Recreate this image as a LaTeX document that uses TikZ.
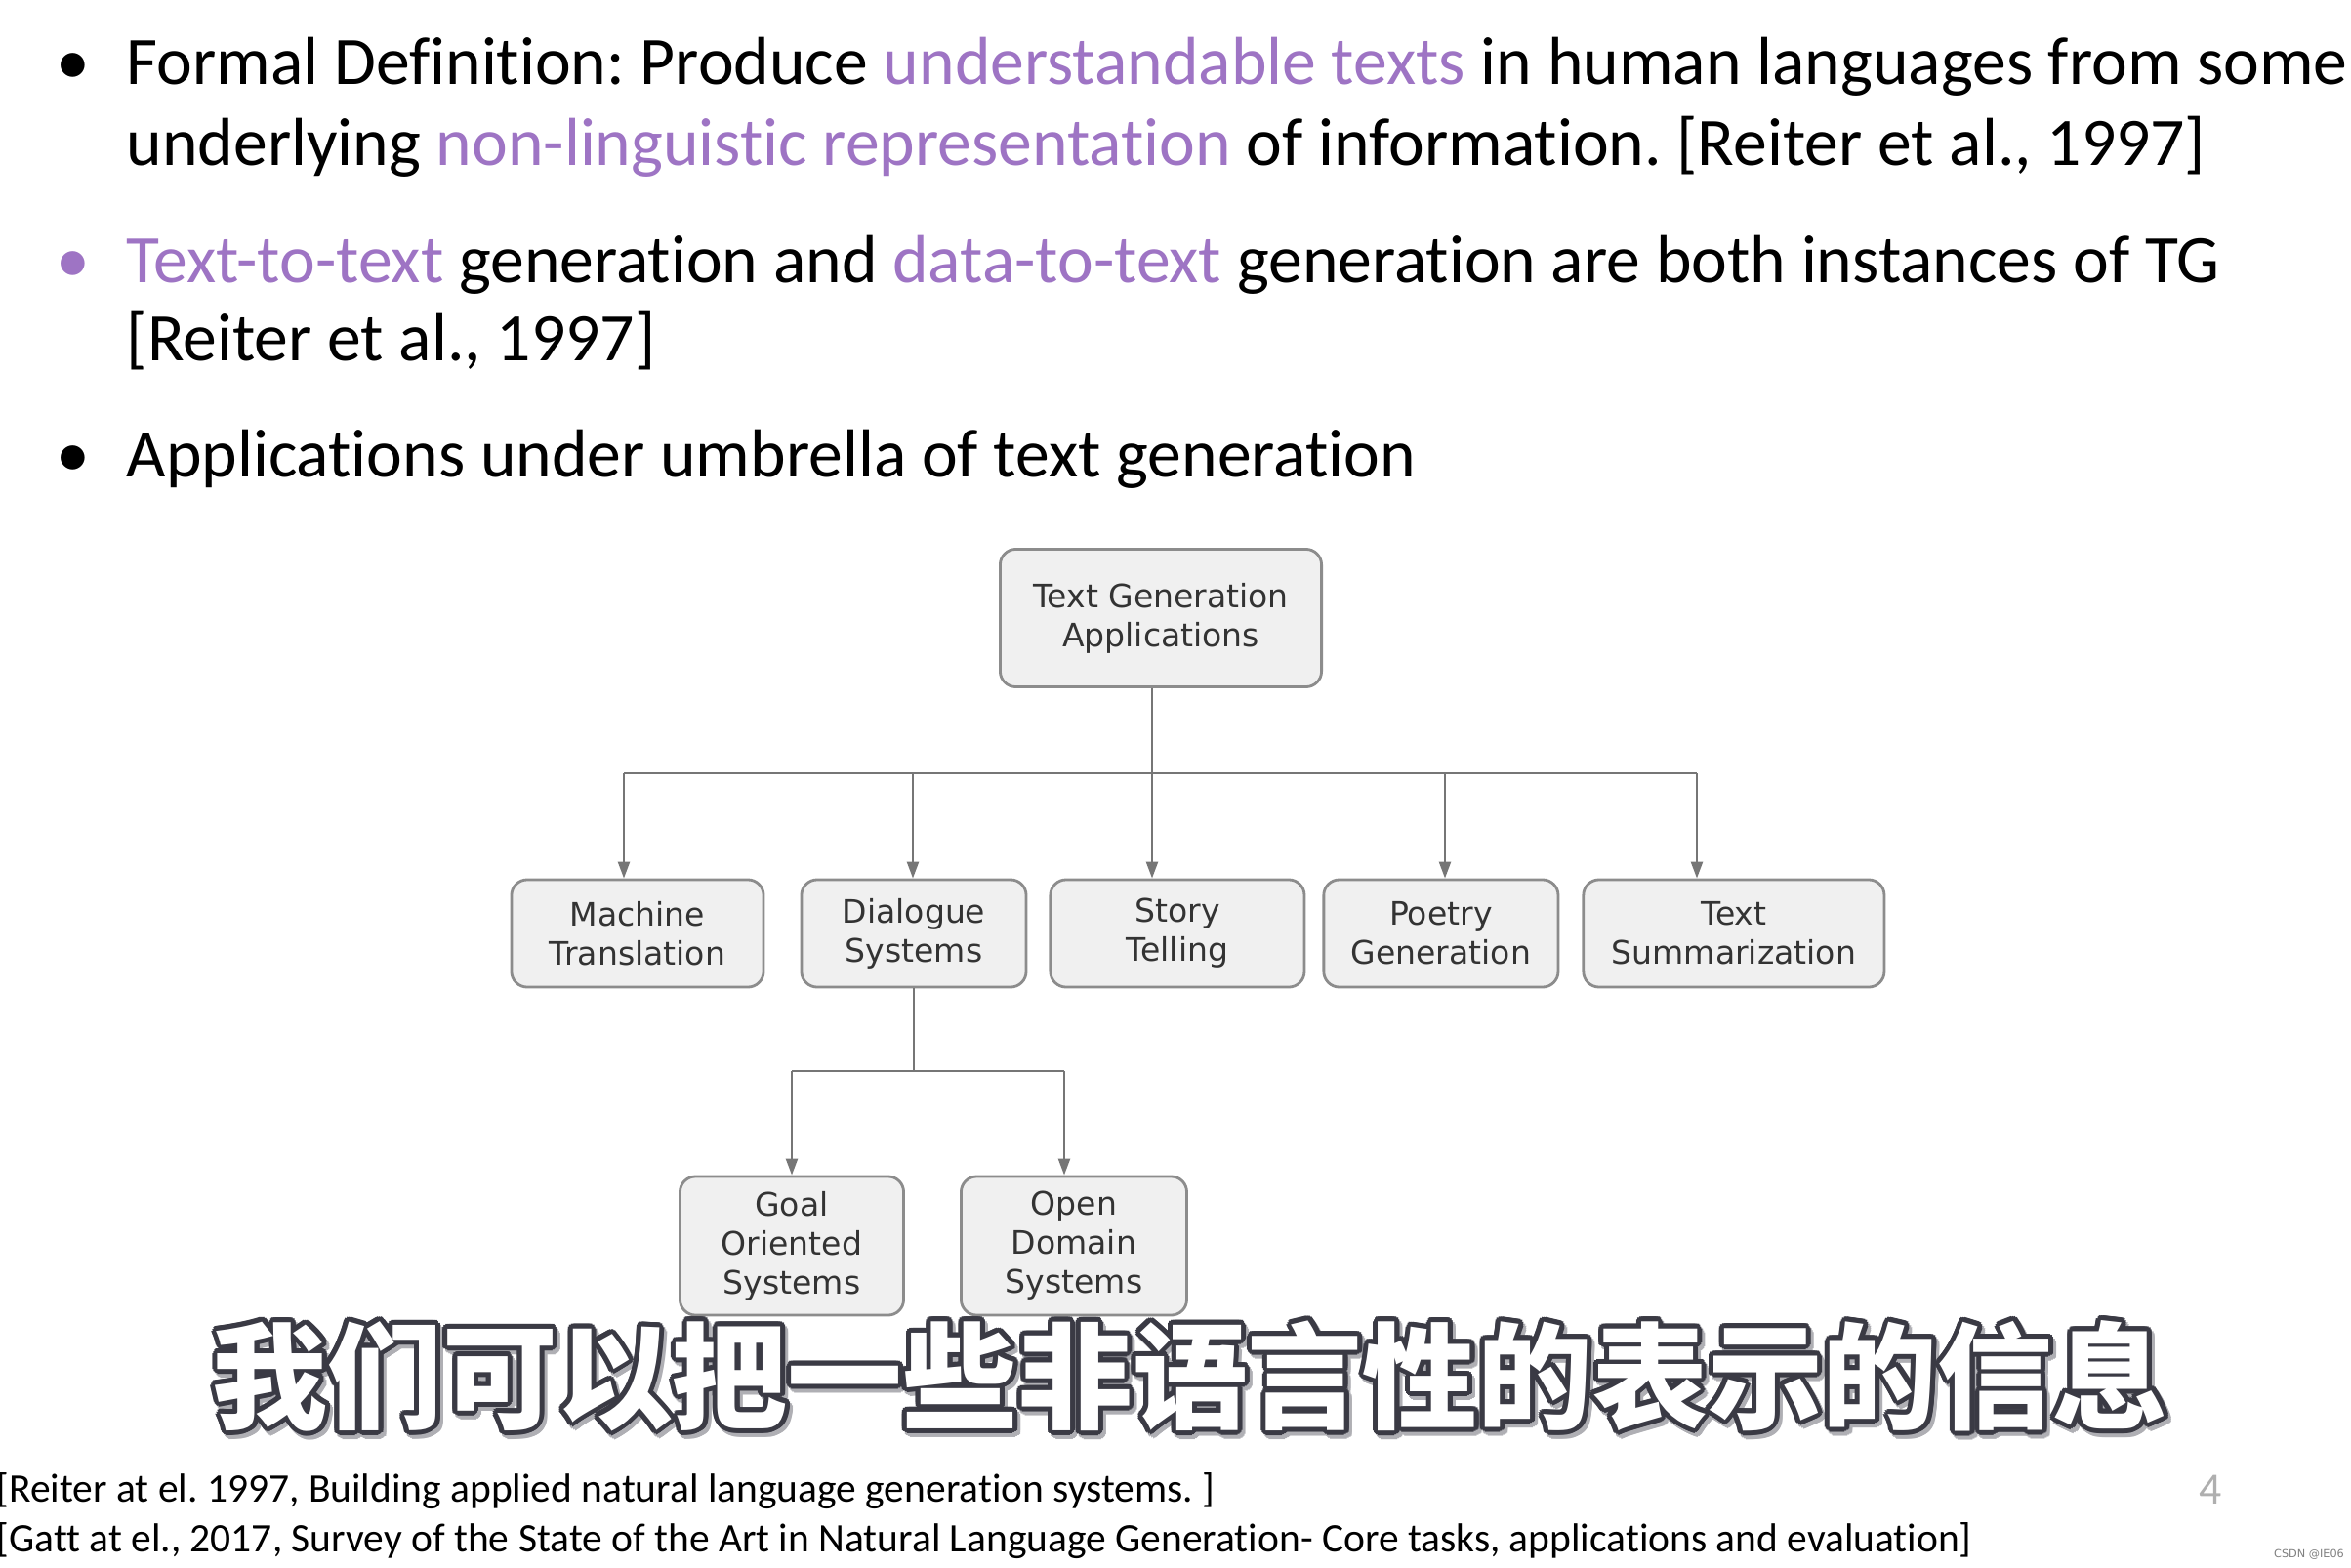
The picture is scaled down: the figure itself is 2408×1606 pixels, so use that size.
\documentclass[tikz,border=0pt]{standalone}
\usepackage{fontspec}
\setmainfont{Carlito}[Ligatures=NoCommon]
\newfontfamily\boxfont{DejaVu Sans}
\newfontfamily\reffont{Carlito}[Ligatures=NoCommon]
\newfontfamily\cjk{Noto Sans CJK SC}
\usepackage{tikz}
\usetikzlibrary{arrows.meta,positioning,calc}
\definecolor{tgpurple}{RGB}{158,116,196}
\definecolor{boxline}{RGB}{140,140,140}
\definecolor{boxfill}{RGB}{240,240,240}
\definecolor{wireline}{RGB}{118,118,118}
\definecolor{boxtext}{RGB}{51,51,51}
\definecolor{subline}{RGB}{58,58,68}
\definecolor{subshade}{RGB}{175,175,180}
\definecolor{pagegray}{RGB}{175,175,175}
\newcommand\subtitletext{我们可以把一些非语言性的表示的信息}
\frenchspacing
\tikzset{
  bodytext/.style={anchor=base west,inner sep=0pt,font=\fontsize{19.8}{24}\selectfont},
  appbox/.style={draw=boxline,line width=.8pt,fill=boxfill,rounded corners=1.6mm,align=center,
    text=boxtext,inner sep=0pt,font=\fontsize{9.4}{11.4}\boxfont},
  wire/.style={draw=wireline,line width=.7pt},
  wirearrow/.style={wire,-{Triangle[length=1.7mm,width=1.2mm]}},
  subtext/.style={inner sep=0pt,font=\fontsize{33.5}{34}\cjk\bfseries},
  reftext/.style={anchor=base west,inner sep=0pt,font=\fontsize{11.8}{13}\reffont}
}
\begin{document}
\begin{tikzpicture}[x=0.01cm,y=-0.01cm]
  \useasboundingbox (0,0) rectangle (2408,1606);
  \clip (0,0) rectangle (2408,1606);
  \fill[white] (0,0) rectangle (2408,1606);

  % bullet points
  \node[bodytext,anchor=base] (bul1) at (75,87) {\textbullet};
  \node[bodytext] (l1) at (129,87) {Formal Definition: Produce \textcolor{tgpurple}{understandable texts} in human languages from some};
  \node[bodytext] (l2) at (129,169) {underlying \textcolor{tgpurple}{non-linguistic representation} of information. [Reiter et al., 1997]};
  \node[bodytext,anchor=base,text=tgpurple] (bul2) at (75,289) {\textbullet};
  \node[bodytext] (l3) at (129,289) {\textcolor{tgpurple}{Text-to-text} generation and \textcolor{tgpurple}{data-to-text} generation are both instances of TG};
  \node[bodytext] (l4) at (129,369) {[Reiter et al., 1997]};
  \node[bodytext,anchor=base] (bul3) at (75,488) {\textbullet};
  \node[bodytext] (l5) at (129,488) {Applications under umbrella of text generation};

  % application tree
  \node[appbox,minimum width=32.9mm,minimum height=14.1mm] (root) at (1189,633) {Text Generation\\Applications};
  \node[appbox,minimum width=25.8mm,minimum height=11mm] (mt) at (653,956) {Machine\\Translation};
  \node[appbox,minimum width=23mm,minimum height=11mm,right=3.6mm of mt] (ds) {Dialogue\\Systems};
  \node[appbox,minimum width=26mm,minimum height=11mm,right=2.2mm of ds] (st) {Story\\Telling};
  \node[appbox,minimum width=24mm,minimum height=11mm,right=1.7mm of st] (pg) {Poetry\\Generation};
  \node[appbox,minimum width=30.8mm,minimum height=11mm,right=2.3mm of pg] (ts) {Text\\Summarization};
  \node[appbox,minimum width=22.9mm,minimum height=14.2mm] (go) at (811,1276) {Goal\\Oriented\\Systems};
  \node[appbox,minimum width=23.1mm,minimum height=14.2mm,right=5.6mm of go] (od) {Open\\Domain\\Systems};

  \coordinate (b1) at (639,792);
  \coordinate (b2) at (935,792);
  \coordinate (b3) at (1180,792);
  \coordinate (b4) at (1480,792);
  \coordinate (b5) at (1738,792);
  \coordinate (c1) at (811,1097);
  \coordinate (c2) at (1090,1097);
  \draw[wire] (b3 |- root.south)--(b3);
  \draw[wire] (b1)--(b5);
  \draw[wirearrow] (b1)--(b1 |- mt.north);
  \draw[wirearrow] (b2)--(b2 |- ds.north);
  \draw[wirearrow] (b3)--(b3 |- st.north);
  \draw[wirearrow] (b4)--(b4 |- pg.north);
  \draw[wirearrow] (b5)--(b5 |- ts.north);
  \draw[wire] (ds.south)--(ds.south |- c1);
  \draw[wire] (c1)--(c2);
  \draw[wirearrow] (c1)--(c1 |- go.north);
  \draw[wirearrow] (c2)--(c2 |- od.north);

  % subtitle with outline
  \coordinate (subc) at (1219,1409);
  \foreach \a in {0,22.5,...,337.5}
    \node[subtext,text=subshade] at ($(subc)+(\a:0.05cm)+(0.03cm,-0.04cm)$) {\subtitletext};
  \foreach \a in {0,22.5,...,337.5}
    \node[subtext,text=subline] at ($(subc)+(\a:0.05cm)$) {\subtitletext};
  \node[subtext,text=white] (sub) at (subc) {\subtitletext};

  % references
  \node[reftext] (ref1) at (-4,1538) {[Reiter at el. 1997, Building applied natural language generation systems. ]};
  \node[reftext] (ref2) at (-4,1589) {[Gatt at el., 2017, Survey of the State of the Art in Natural Language Generation- Core tasks, applications and evaluation]};
  \node[anchor=base,inner sep=0pt,text=pagegray,font=\fontsize{13}{15}\selectfont] (pagenum) at (2264,1540) {4};
  \node[inner sep=0pt,text=gray,font=\fontsize{3.2}{4}\boxfont] (mark) at (2365,1592) {CSDN @IE06};
\end{tikzpicture}
\end{document}
